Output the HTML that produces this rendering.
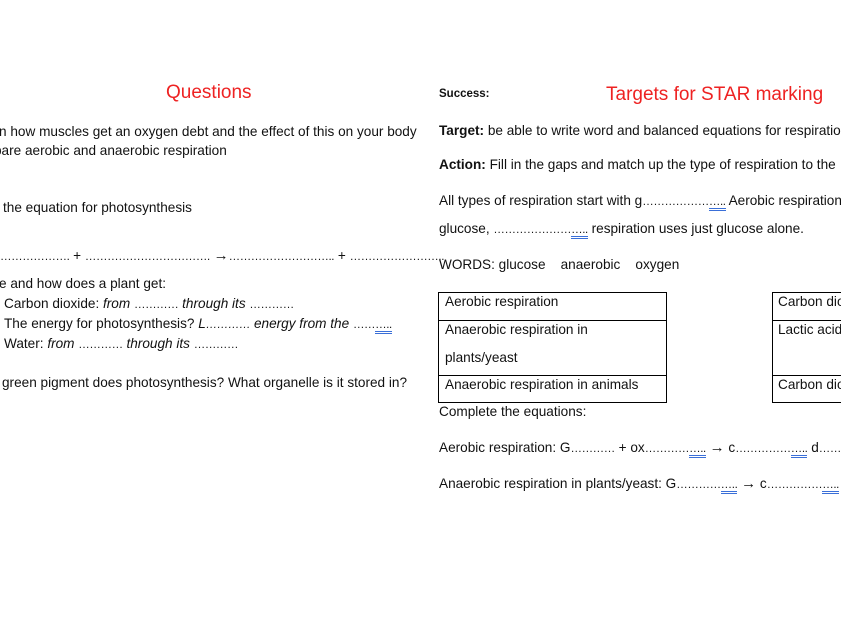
<!DOCTYPE html>
<html><head><style>
html,body{margin:0;padding:0;width:841px;height:630px;overflow:hidden;background:#fff;}
body{position:relative;font-family:"Liberation Sans",Arial,sans-serif;font-size:13.6px;color:#111;}
.t{position:absolute;white-space:nowrap;line-height:16px;}
.red{color:#ee2222;font-size:19px;line-height:20px;}
i{font-style:italic;}
.d{font-size:11.5px;letter-spacing:-0.4px;}
.u{border-bottom:3px double #3a6fd8;line-height:12px;display:inline-block;}
.ar{font-weight:bold;font-size:15px;}
.box{position:absolute;border:1px solid #000;box-sizing:border-box;}
.row{position:absolute;left:0;right:0;border-top:1px solid #000;}
</style></head><body>
<div class="t red" style="left:166px;top:83px;">Questions</div>
<div class="t" style="left:439px;top:86px;font-weight:bold;font-size:11.5px;">Success:</div>
<div class="t red" style="left:606px;top:85px;">Targets for STAR marking</div>

<div class="t" style="left:-4px;top:124px;">in how muscles get an oxygen debt and the effect of this on your body</div>
<div class="t" style="left:-6px;top:143px;">pare aerobic and anaerobic respiration</div>
<div class="t" style="left:3px;top:200px;">the equation for photosynthesis</div>
<div class="t" style="left:0px;top:248px;"><span class="d">……………….</span> + <span class="d">…………………………….</span> <span class="ar">→</span><span class="d">………………………..</span> + <span class="d">……………………..</span></div>
<div class="t" style="left:-1px;top:276px;">e and how does a plant get:</div>
<div class="t" style="left:4px;top:296px;">Carbon dioxide: <i>from</i> <span class="d">…………</span> <i>through its</i> <span class="d">…………</span></div>
<div class="t" style="left:4px;top:316px;">The energy for photosynthesis? <i>L<span class="d">…………</span> energy from the</i> <span class="d">……</span><span class="u d">…..</span></div>
<div class="t" style="left:4px;top:336px;">Water: <i>from</i> <span class="d">…………</span> <i>through its</i> <span class="d">…………</span></div>
<div class="t" style="left:2px;top:375px;">green pigment does photosynthesis? What organelle is it stored in?</div>

<div class="t" style="left:439px;top:123px;"><b>Target:</b> be able to write word and balanced equations for respiration</div>
<div class="t" style="left:439px;top:157px;"><b>Action:</b> Fill in the gaps and match up the type of respiration to the</div>
<div class="t" style="left:439px;top:193px;">All types of respiration start with g<span class="d">………………</span><span class="u d">…..</span> Aerobic respiration</div>
<div class="t" style="left:439px;top:221px;">glucose, <span class="d">…………………</span><span class="u d">…..</span> respiration uses just glucose alone.</div>
<div class="t" style="left:439px;top:257px;">WORDS: glucose &nbsp;&nbsp; anaerobic &nbsp;&nbsp; oxygen</div>

<div class="box" style="left:438px;top:292px;width:229px;height:111px;">
  <div class="row" style="top:27px;"></div>
  <div class="row" style="top:82px;"></div>
</div>
<div class="t" style="left:445px;top:294px;">Aerobic respiration</div>
<div class="t" style="left:445px;top:322px;">Anaerobic respiration in</div>
<div class="t" style="left:445px;top:350px;">plants/yeast</div>
<div class="t" style="left:445px;top:377px;">Anaerobic respiration in animals</div>

<div class="box" style="left:772px;top:292px;width:80px;height:111px;">
  <div class="row" style="top:27px;"></div>
  <div class="row" style="top:82px;"></div>
</div>
<div class="t" style="left:778px;top:294px;">Carbon dioxide</div>
<div class="t" style="left:778px;top:322px;">Lactic acid</div>
<div class="t" style="left:778px;top:377px;">Carbon dioxide</div>

<div class="t" style="left:439px;top:404px;">Complete the equations:</div>
<div class="t" style="left:439px;top:440px;">Aerobic respiration: G<span class="d">…………</span> + ox<span class="d">…………</span><span class="u d">…..</span> <span class="ar">→</span> c<span class="d">……………</span><span class="u d">…..</span> d<span class="d">…………</span></div>
<div class="t" style="left:439px;top:476px;">Anaerobic respiration in plants/yeast: G<span class="d">…………</span><span class="u d">…..</span> <span class="ar">→</span> c<span class="d">……………</span><span class="u d">…..</span> d…</div>
</body></html>
